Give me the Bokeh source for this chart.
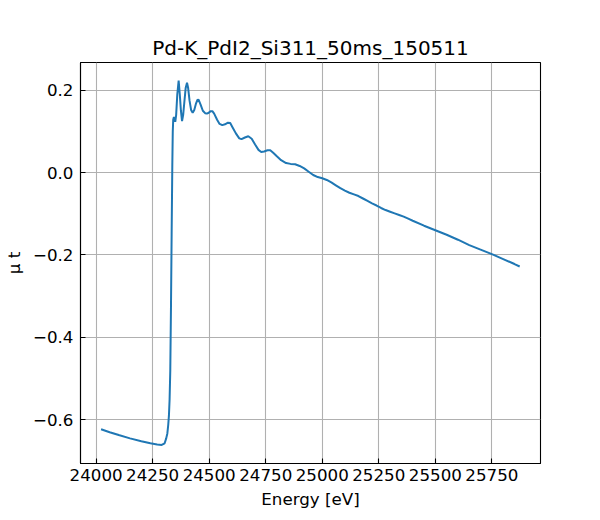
from bokeh.plotting import figure
from bokeh.models import Range1d, FixedTicker
from bokeh.embed import file_html
from bokeh.resources import INLINE

title_text = "Pd-K_PdI2_Si311_50ms_150511"
x_label = "Energy [eV]"
y_label = "\u03bc t"

energy = [
    24022, 24060, 24100, 24150, 24200, 24240, 24270, 24290, 24303, 24310,
    24315, 24319, 24322, 24325, 24328, 24331, 24334, 24337, 24339, 24341,
    24344, 24350, 24354, 24359, 24365, 24370, 24375, 24380, 24385, 24390,
    24396, 24402, 24407, 24413, 24420, 24427, 24434, 24442, 24448, 24453,
    24462, 24472, 24482, 24490, 24498, 24507, 24514, 24522, 24535, 24546,
    24558, 24570, 24583, 24593, 24603, 24618, 24633, 24643, 24658, 24673,
    24688, 24703, 24718, 24730, 24743, 24758, 24770, 24783, 24798, 24818,
    24840, 24860, 24880, 24900, 24920, 24940, 24960, 24980, 25000, 25020,
    25040, 25060, 25080, 25100, 25120, 25140, 25160, 25180, 25200, 25220,
    25240, 25260, 25280, 25300, 25320, 25340, 25360, 25380, 25400, 25450,
    25500, 25550, 25600, 25650, 25700, 25750, 25800, 25850, 25873,
]
mu_t = [
    -0.623, -0.630, -0.637, -0.645, -0.652, -0.657, -0.660, -0.661, -0.657, -0.645,
    -0.633, -0.612, -0.590, -0.550, -0.480, -0.330, -0.150, 0.020, 0.100, 0.128,
    0.135, 0.123, 0.140, 0.190, 0.223, 0.190, 0.150, 0.125, 0.140, 0.170,
    0.205, 0.218, 0.205, 0.175, 0.152, 0.145, 0.152, 0.168, 0.176, 0.177,
    0.165, 0.150, 0.144, 0.143, 0.145, 0.149, 0.149, 0.143, 0.128, 0.118,
    0.115, 0.117, 0.121, 0.120, 0.110, 0.095, 0.083, 0.081, 0.085, 0.088,
    0.082, 0.068, 0.055, 0.050, 0.051, 0.054, 0.054, 0.048, 0.040, 0.030,
    0.023, 0.021, 0.020, 0.016, 0.010, 0.002, -0.006, -0.011, -0.014, -0.018,
    -0.024, -0.031, -0.038, -0.044, -0.049, -0.053, -0.057, -0.063, -0.069, -0.075,
    -0.080, -0.086, -0.091, -0.095, -0.099, -0.103, -0.107, -0.112, -0.117, -0.129,
    -0.140, -0.151, -0.163, -0.176, -0.187, -0.198, -0.210, -0.222, -0.228,
]

x_ticks = [24000, 24250, 24500, 24750, 25000, 25250, 25500, 25750]
x_tick_labels = ["24000", "24250", "24500", "24750", "25000", "25250", "25500", "25750"]
y_ticks = [-0.6, -0.4, -0.2, 0.0, 0.2]
y_tick_labels = ["\u22120.6", "\u22120.4", "\u22120.2", "0.0", "0.2"]

FONT = "DejaVu Sans"

p = figure(
    width=600, height=520,
    output_backend="svg", toolbar_location=None,
    x_range=Range1d(23931, 25965), y_range=Range1d(-0.706, 0.267),
    min_border_left=75, min_border_right=60, min_border_top=62, min_border_bottom=57,
    title=title_text,
)
p.background_fill_color = "white"
p.border_fill_color = "white"
p.outline_line_color = "black"
p.outline_line_width = 1.1
p.outline_line_alpha = 1.0

p.title.align = "center"
p.title.text_font = FONT
p.title.text_font_size = "20px"
p.title.text_font_style = "normal"
p.title.text_color = "black"
p.title.standoff = 6

p.line(energy, mu_t, line_color="#1f77b4", line_width=2.0)

p.xaxis.ticker = FixedTicker(ticks=x_ticks)
p.yaxis.ticker = FixedTicker(ticks=y_ticks)
p.xaxis.major_label_overrides = dict(zip(x_ticks, x_tick_labels))
p.yaxis.major_label_overrides = dict(zip(y_ticks, y_tick_labels))

for ax in (p.xaxis, p.yaxis):
    ax.axis_line_color = "black"
    ax.axis_line_width = 1.1
    ax.major_tick_in = 5
    ax.major_tick_out = 0
    ax.major_tick_line_color = "black"
    ax.major_tick_line_width = 1.1
    ax.minor_tick_line_color = None
    ax.major_label_text_font = FONT
    ax.major_label_text_font_size = "16.7px"
    ax.major_label_text_color = "black"
    ax.axis_label_text_font = FONT
    ax.axis_label_text_font_size = "16.7px"
    ax.axis_label_text_font_style = "normal"
    ax.axis_label_text_color = "black"

p.xaxis.axis_label = x_label
p.yaxis.axis_label = y_label
p.xaxis.major_label_standoff = 5
p.xaxis.axis_label_standoff = 5
p.yaxis.major_label_standoff = 7
p.yaxis.axis_label_standoff = 6

p.grid.grid_line_color = "#b0b0b0"
p.grid.grid_line_width = 1.1
p.grid.grid_line_alpha = 1.0

open("out.html", "w").write(file_html(p, INLINE))
